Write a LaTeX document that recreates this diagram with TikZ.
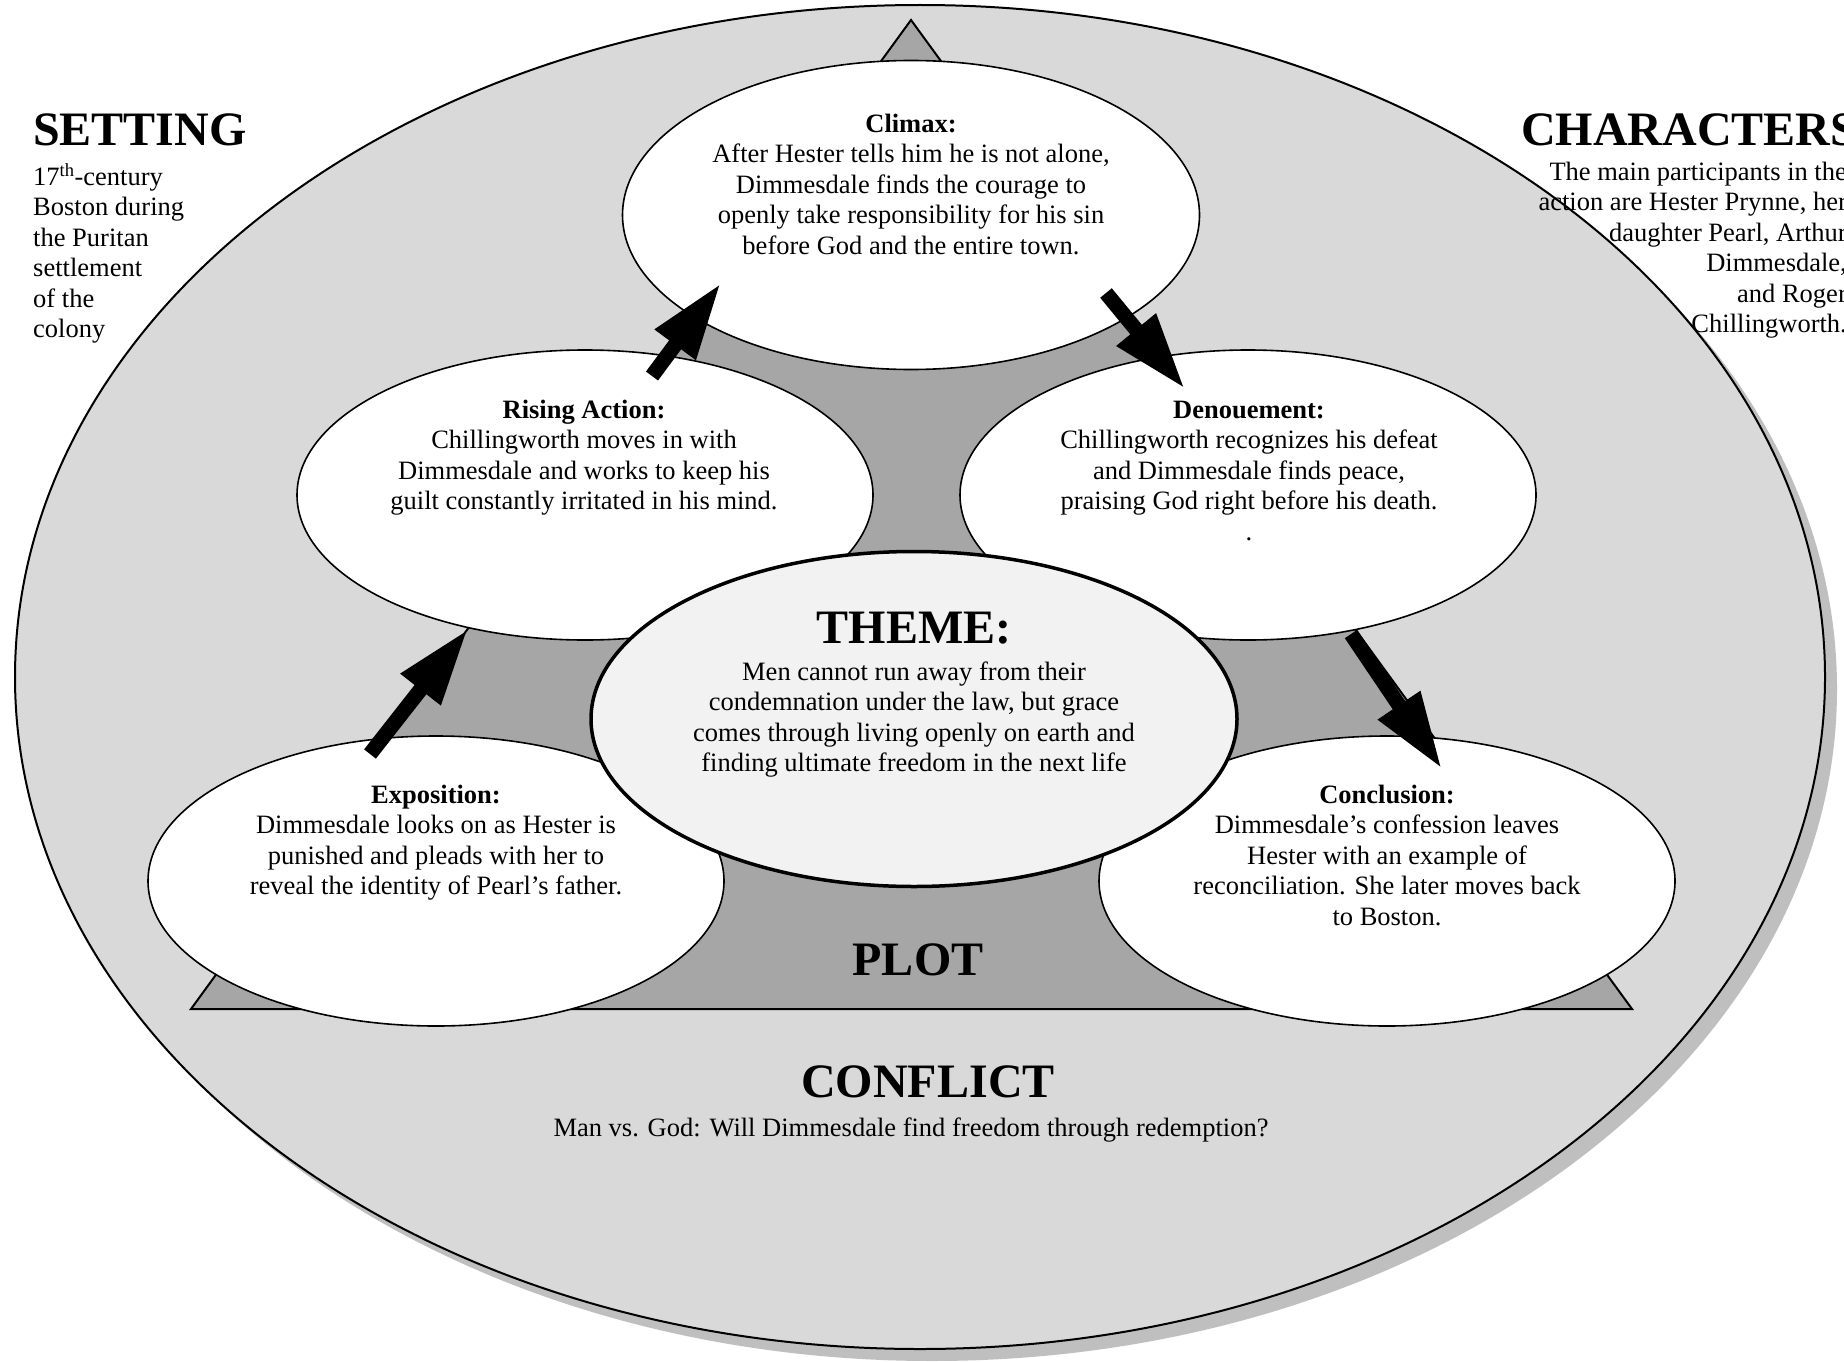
\documentclass[tikz,border=0pt]{standalone}
\usepackage{fontspec}
\setmainfont{Liberation Serif}
\usetikzlibrary{shapes.geometric,arrows.meta}
\definecolor{outerfill}{HTML}{D9D9D9}
\definecolor{shadowc}{HTML}{BFBFBF}
\definecolor{plotgrey}{HTML}{A6A6A6}
\definecolor{themefill}{HTML}{F2F2F2}
\newcommand\myBody{\fontsize{26.5}{30.5}\selectfont}
\newcommand\myHead{\fontsize{48}{56}\selectfont\bfseries}
\newcommand\myStrut{\rule{0pt}{20pt}}
\begin{document}
\begin{tikzpicture}[x=1pt,y=-1pt,
  stage/.style={ellipse, draw=black, line width=1.6pt, fill=white, inner sep=0pt,
                minimum width=576pt, minimum height=290pt},
  bodytext/.style={font=\myBody, align=center, inner sep=0pt, anchor=north},
  headtext/.style={font=\myHead, inner sep=0pt, anchor=base},
  blockarrow/.style={line width=15pt, draw=black, -{Triangle[length=77pt,width=47pt]}}
]
\useasboundingbox (0,0) rectangle (1844,1362);
\fill[white] (0,0) rectangle (1844,1362);
\clip (0,0) rectangle (1844,1362);

% outer ellipse with shadow
\node[ellipse, fill=shadowc, inner sep=0pt, minimum width=1810pt, minimum height=1344pt] (shadow) at (932,689) {};
\node[ellipse, draw=black, line width=2pt, fill=outerfill, inner sep=0pt, minimum width=1810pt, minimum height=1344pt] (outer) at (920,677) {};

% plot triangle
\draw[fill=plotgrey, line width=2pt, line join=miter] (911,20) -- (191,1009) -- (1632,1009) -- cycle;

% stage ellipses
\node[stage, minimum height=309pt, minimum width=577pt] (climax) at (911,215) {};
\node[stage] (rising) at (585,495) {};
\node[stage] (denoue) at (1248,495) {};
\node[stage] (expo) at (436,881) {};
\node[stage] (concl) at (1387,881) {};

% theme ellipse
\node[ellipse, draw=black, line width=3.5pt, fill=themefill, inner sep=0pt,
      minimum width=646pt, minimum height=335pt] (theme) at (914,719) {};

% arrows
\coordinate (a1s) at (370,754); \coordinate (a1e) at (468,629);
\coordinate (a2s) at (652,376); \coordinate (a2e) at (721,283);
\coordinate (a3s) at (1106,293); \coordinate (a3e) at (1185,389);
\coordinate (a4s) at (1351,634); \coordinate (a4e) at (1442,769);
\draw[blockarrow] (a1s) -- (a1e);
\draw[blockarrow] (a2s) -- (a2e);
\draw[blockarrow] (a3s) -- (a3e);
\draw[blockarrow] (a4s) -- (a4e);

% texts
\node[headtext, anchor=base west] (settingh) at (33,146) {SETTING};
\node[bodytext, align=left, anchor=north west] (settingt) at (33,163)
  {\myStrut 17\textsuperscript{th}-century\\Boston during\\the Puritan\\settlement\\of the\\colony};

\node[headtext, anchor=base west] (charh) at (1521,146) {CHARACTERS};
\node[bodytext, align=right, anchor=north east] (chart) at (1847,160)
  {\myStrut The main participants in the\\action are Hester Prynne, her\\daughter Pearl, Arthur\\Dimmesdale,\\and Roger\\Chillingworth.};

\node[bodytext] (climaxt) at (911,112)
  {\myStrut\textbf{Climax:}\\After Hester tells him he is not alone,\\Dimmesdale finds the courage to\\openly take responsibility for his sin\\before God and the entire town.};

\node[bodytext] (risingt) at (584,398)
  {\myStrut\textbf{Rising Action:}\\Chillingworth moves in with\\Dimmesdale and works to keep his\\guilt constantly irritated in his mind.};

\node[bodytext] (denouet) at (1249,398)
  {\myStrut\textbf{Denouement:}\\Chillingworth recognizes his defeat\\and Dimmesdale finds peace,\\praising God right before his death.\\.};

\node[bodytext] (expot) at (436,783)
  {\myStrut\textbf{Exposition:}\\Dimmesdale looks on as Hester is\\punished and pleads with her to\\reveal the identity of Pearl’s father.};

\node[bodytext] (conclt) at (1387,783)
  {\myStrut\textbf{Conclusion:}\\Dimmesdale’s confession leaves\\Hester with an example of\\reconciliation. She later moves back\\to Boston.};

\node[headtext] (themeh) at (914,643) {THEME:};
\node[bodytext] (themet) at (914,660)
  {\myStrut Men cannot run away from their\\condemnation under the law, but grace\\comes through living openly on earth and\\finding ultimate freedom in the next life};

\node[headtext] (ploth) at (918,975) {PLOT};
\node[headtext] (conflicth) at (928,1097) {CONFLICT};
\node[bodytext, anchor=base] (conflictt) at (911,1136)
  {Man vs. God: Will Dimmesdale find freedom through redemption?};
\end{tikzpicture}
\end{document}
